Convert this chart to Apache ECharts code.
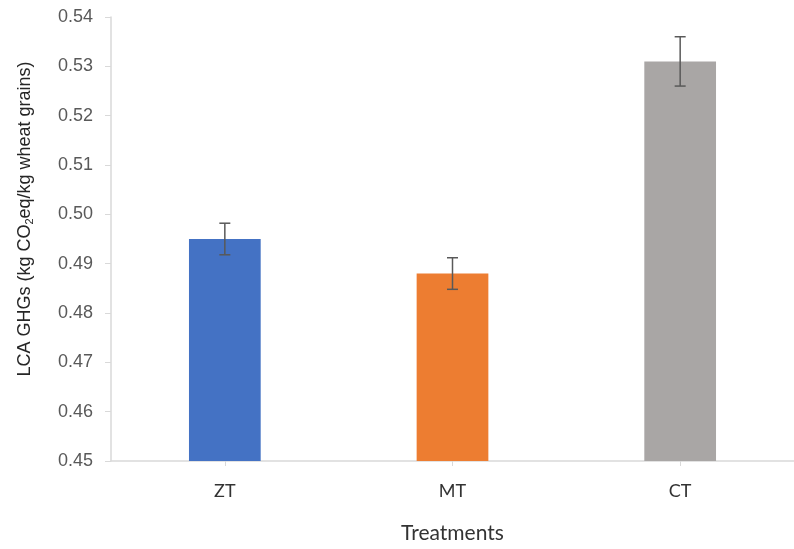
<!DOCTYPE html>
<html>
<head>
<meta charset="utf-8">
<script src="https://cdn.jsdelivr.net/npm/echarts@6/dist/echarts.min.js"></script>
<style>
html,body{margin:0;padding:0;background:#fff;}
#chart{width:794px;height:549px;}
</style>
</head>
<body>
<div id="chart"></div>
<script>
const categories = ['ZT', 'MT', 'CT'];
const values = [0.495, 0.488, 0.531];
const errors = [0.0032, 0.0032, 0.005];
const colors = ['#4472C4', '#ED7D31', '#A9A6A5'];
const yTicks = { min: 0.45, max: 0.54, interval: 0.01 };

const chart = echarts.init(document.getElementById('chart'), null, { renderer: 'canvas' });

const barData = values.map((v, i) => ({ value: v, itemStyle: { color: colors[i] } }));
const errData = values.map((v, i) => [i, v - errors[i], v + errors[i]]);

chart.setOption({
  animation: false,
  backgroundColor: '#ffffff',
  grid: { left: 111, right: -6, top: 17, bottom: 85, containLabel: false },
  xAxis: {
    type: 'category',
    data: categories,
    name: 'Treatments',
    nameLocation: 'middle',
    nameGap: 62,
    nameTextStyle: { fontFamily: 'Lato', fontSize: 21, color: '#333333' },
    axisLine: { show: true, lineStyle: { color: '#D9D9D9', width: 1.5 } },
    axisTick: { show: true, alignWithLabel: true, length: 5, lineStyle: { color: '#D9D9D9' } },
    axisLabel: { fontFamily: 'Lato', fontSize: 18, color: '#333333', margin: 21 },
    splitLine: { show: false }
  },
  yAxis: {
    type: 'value',
    min: yTicks.min,
    max: yTicks.max,
    interval: yTicks.interval,
    name: '{a|LCA GHGs (kg CO}{s|2}{a|eq/kg wheat grains)}',
    nameLocation: 'middle',
    nameRotate: 90,
    nameGap: 76,
    nameTextStyle: {
      padding: [0, 0, 0, 40],
      rich: {
        a: { fontFamily: 'Liberation Sans', fontSize: 18, color: '#262626' },
        s: { fontFamily: 'Liberation Sans', fontSize: 11, color: '#262626', verticalAlign: 'bottom', padding: [8, 0, 0, 0] }
      }
    },
    axisLine: { show: true, lineStyle: { color: '#D9D9D9', width: 1.5 } },
    axisTick: { show: true, length: 6, lineStyle: { color: '#D9D9D9' } },
    axisLabel: {
      fontFamily: 'Liberation Sans', fontSize: 18, color: '#595959', margin: 18,
      formatter: v => v.toFixed(2)
    },
    splitLine: { show: false }
  },
  series: [
    {
      type: 'bar',
      data: barData,
      barWidth: '31.5%'
    },
    {
      type: 'custom',
      data: errData,
      z: 10,
      renderItem: function (params, api) {
        const x = api.value(0);
        const lo = api.coord([x, api.value(1)]);
        const hi = api.coord([x, api.value(2)]);
        const hw = 5.5;
        const style = { stroke: '#595959', lineWidth: 1.5 };
        return {
          type: 'group',
          children: [
            { type: 'line', shape: { x1: hi[0], y1: hi[1], x2: lo[0], y2: lo[1] }, style },
            { type: 'line', shape: { x1: hi[0] - hw, y1: hi[1], x2: hi[0] + hw, y2: hi[1] }, style },
            { type: 'line', shape: { x1: lo[0] - hw, y1: lo[1], x2: lo[0] + hw, y2: lo[1] }, style }
          ]
        };
      }
    }
  ]
});
</script>
</body>
</html>
